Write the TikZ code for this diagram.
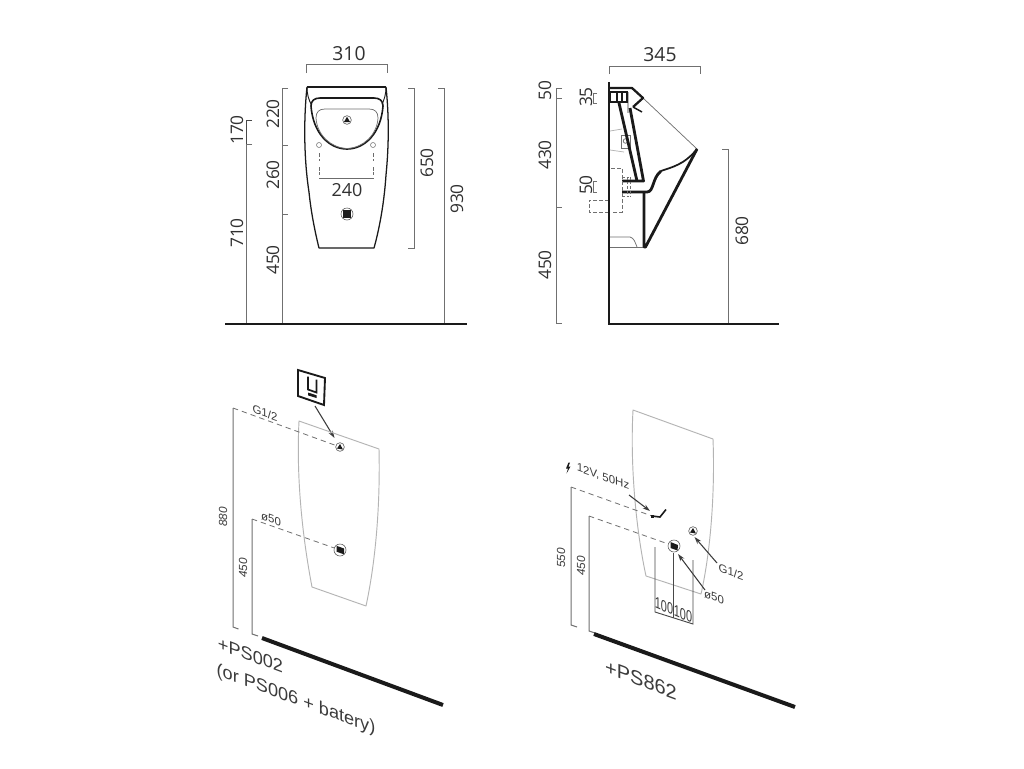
\documentclass[tikz,border=0pt]{standalone}
\usepackage{fontspec}
\setmainfont{Open Sans}
\newfontfamily\arl{Liberation Sans}
\usetikzlibrary{arrows.meta}
\definecolor{dimg}{HTML}{707070}
\definecolor{panelg}{HTML}{B4B4B4}
\definecolor{ink}{HTML}{1A1A1A}
\tikzset{
  dimline/.style={draw=dimg,line width=0.75pt},
  thinblack/.style={draw=ink!80,line width=0.55pt},
  floorline/.style={draw=ink,line width=1.7pt},
  body/.style={draw=ink,line width=0.95pt,line join=round},
  heavy/.style={draw=ink,line width=2.1pt,line join=round},
  hair/.style={draw=panelg,line width=0.55pt},
  panel/.style={draw=panelg,line width=0.7pt,line join=round},
  leader/.style={draw=dimg,line width=0.6pt,dash pattern=on 4pt off 3pt},
  ptr/.style={draw=ink!85,line width=0.8pt,-{Stealth[length=5.5pt,width=3.5pt]}},
  dimtext/.style={font=\fontsize{13}{13}\selectfont,text=ink!90,inner sep=0pt,rotate=90},
  flattext/.style={font=\fontsize{14.5}{14.5}\selectfont,text=ink!90,inner sep=0pt},
  small/.style={font=\arl\fontsize{8.6}{9}\selectfont,text=ink!85,inner sep=0pt,yslant=-0.36},
  smallv/.style={font=\arl\itshape\fontsize{8.8}{9}\selectfont,text=ink!85,inner sep=0pt,rotate=90},
  big/.style={font=\arl\fontsize{13.6}{14}\selectfont,text=ink!85,inner sep=0pt,yslant=-0.37},
  holering/.style={draw=ink!70,fill=white,line width=0.45pt},
}
\begin{document}
\begin{tikzpicture}[x=0.75pt,y=-0.75pt]
\useasboundingbox (0,0) rectangle (1024,768);
\fill[white] (0,0) rectangle (1024,768);
%% ---------- front view ----------
\draw[dimline] (306,73) -- (306,64.5) -- (387,64.5) -- (387,73);
\node[flattext] (t310) at (349,54) {310};
\draw[body] (307,87) -- (386,87);
\draw[body] (307,87) .. controls (303.5,120) and (304,160) .. (309,192) .. controls (311,212) and (315,232) .. (319,248) -- (374,248) .. controls (379,230) and (384,205) .. (386,175) .. controls (389,145) and (389,115) .. (386,87);
\draw[body,line width=0.7pt] (307,87) .. controls (307,95) and (309,100) .. (311,104);
\draw[body,line width=0.7pt] (386,87) .. controls (386,95) and (384,100) .. (382,104);
\draw[heavy,line width=1.2pt] (311,106) .. controls (311,101) and (314,98) .. (320,98) -- (374,98) .. controls (380,98) and (383,101) .. (383,106) .. controls (381,133) and (365,149) .. (347,149) .. controls (329,149) and (313,133) .. (311,106);
\draw[hair,draw=dimg] (316,118) .. controls (316,112) and (319,109) .. (325,109) -- (369,109) .. controls (375,109) and (378,112) .. (378,118) .. controls (377,135) and (363,148) .. (347,148.5) .. controls (331,148) and (317,135) .. (316,118);
\node[holering,circle,minimum size=6.5pt,inner sep=0pt] (fronttap) at (347,120) {};
\fill[ink] (347,116.8) -- (350.2,122.2) -- (343.8,122.2) -- cycle;
\node[holering,circle,minimum size=9pt,inner sep=0pt] (frontwaste) at (347,214) {};
\fill[ink] (343,210) rectangle (351,218);
\draw[panelg!60!black,line width=0.5pt] (319,148) -- (319,178) -- (373,178) -- (373,148);
\draw[white,line width=0.8pt,dash pattern=on 4pt off 3pt on 1pt off 2pt] (319,148) -- (319,178);
\draw[white,line width=0.8pt,dash pattern=on 4pt off 3pt on 1pt off 2pt] (373,148) -- (373,178);
\draw[dimg,line width=0.4pt] (319,145) circle[radius=2.5] (373,145) circle[radius=2.5];
\node[flattext,font=\fontsize{13.5}{13.5}\selectfont] (t240) at (347,190) {240};
\draw[dimline] (288,88) -- (282,88) -- (282,324);
\draw[dimline] (282,145) -- (288,145);
\draw[dimline] (282,214) -- (288,214);
\draw[thinblack] (252,120) -- (246,120) -- (246,144);
\draw[dimline] (252,144) -- (246,144) -- (246,324);
\draw[dimline] (408,88) -- (414,88) -- (414,248) -- (408,248);
\draw[dimline] (438,88) -- (444,88) -- (444,324);
\draw[floorline] (225,324) -- (467,324);
\node[dimtext] (t220) at (273,114) {220};
\node[dimtext] (t170) at (237,130) {170};
\node[dimtext] (t260) at (273,175) {260};
\node[dimtext] (t710) at (237,233) {710};
\node[dimtext] (t450a) at (273,260) {450};
\node[dimtext] (t650) at (427,163) {650};
\node[dimtext] (t930) at (457,199) {930};
%% ---------- side view ----------
\draw[dimline] (609,74) -- (609,66) -- (700,66) -- (700,74);
\node[flattext] (t345) at (660,55) {345};
\draw[dimline] (562,88) -- (556,88) -- (556,323) -- (562,323);
\draw[dimline] (556,98) -- (562,98);
\draw[dimline] (556,207) -- (562,207);
\draw[dimline,line width=0.5pt] (597,93) -- (593.5,93) -- (593.5,103) -- (597,103);
\draw[dimline,line width=0.5pt] (597,181) -- (593.5,181) -- (593.5,192) -- (597,192);
\draw[dimline] (722,149) -- (728,149) -- (728,324);
\node[dimtext] (t50a) at (545,91) {50};
\node[dimtext] (t430) at (545,155) {430};
\node[dimtext] (t450b) at (545,265) {450};
\node[dimtext] (t35) at (586,97) {35};
\node[dimtext] (t50b) at (586,185) {50};
\node[dimtext] (t680) at (742,231) {680};
% thin parts
\draw[hair,draw=dimg] (643,98) -- (697,149);
\draw[hair] (610,131) -- (622,129);
\draw[hair] (610,150) -- (624,152);
\draw[hair,draw=dimg] (621,135) rectangle (630,148);
\draw[hair,draw=dimg] (625.5,141) circle[radius=2.3];
\draw[hair,draw=dimg] (610,237) -- (630,237) .. controls (634,238) and (635,242) .. (637,247);
\draw[hair,draw=dimg] (610,247) -- (645,247);
\draw[panelg,line width=0.9pt] (628,92) -- (628,113);
% thick profile
\draw[heavy,line width=1.7pt] (610,88) -- (632,88) -- (643,98) -- (633,107);
\draw[heavy,line width=1.1pt] (633,107) -- (642,112);
\draw[ink,line width=0.9pt] (610,92) rectangle (627,102);
\draw[ink,line width=0.8pt] (617,92) -- (617,102) (622,92) -- (622,102);
\draw[heavy] (630,108) -- (643.5,181) -- (622,181);
\draw[heavy] (619,103) -- (637,181);
\draw[heavy] (622,192) -- (647,192) .. controls (654,192) and (652,178) .. (661,171);
\draw[heavy,line width=1.3pt] (661,171) .. controls (672,167) and (684,165) .. (697,149);
\draw[heavy] (644,192) -- (644,247) -- (645.5,247) -- (697,149);
\draw[thinblack,dimline,dash pattern=on 3pt off 1.5pt] (611,168) -- (622,168) -- (622,212) -- (611,212);
\draw[thinblack,dimline,dash pattern=on 3pt off 1.5pt] (609,200) -- (589,200) -- (589,212) -- (609,212);
\draw[dimg,line width=0.4pt,dash pattern=on 2pt off 1.5pt] (622,177) -- (630,177) (622,196) -- (630,196) (627,177) -- (627,196) (630,177) -- (630,196);
\draw[floorline,line width=2pt] (609,82) -- (609,324) -- (779,324);
%% ---------- lower left ----------
\draw[ink,line width=1.4pt,line join=miter] (298,370) -- (325,378) -- (324,405) -- (298,396) -- cycle;
\draw[ink,line width=1.3pt] (308,376.5) -- (308,389.5) -- (316.5,392.5) -- (316.5,379.5);
\fill[ink] (308,392.5) -- (316.5,395.3) -- (316.5,398) -- (308,395.4) -- cycle;
\coordinate (iconfoot) at (315,406);
\coordinate (llarrowtip) at (334.5,438);
\draw[ptr] (iconfoot) -- (llarrowtip);
\draw[panel] (299,421) -- (379,449) .. controls (380,490) and (378,550) .. (366,606) -- (312,587) .. controls (303,540) and (296,480) .. (299,421) -- cycle;
\node[holering,circle,minimum size=6.5pt,inner sep=0pt] (lltap) at (340,447) {};
\fill[ink] (340,444) -- (343,449.5) -- (337,448.5) -- cycle;
\node[holering,circle,minimum size=9pt,inner sep=0pt] (llwaste) at (340,550) {};
\fill[ink] (336.5,545.8) -- (344,548.5) -- (344,554.3) -- (336.5,551.7) -- cycle;
\coordinate (lla) at (233,408);
\coordinate (llb) at (252,519);
\draw[leader] (lla) -- (lltap);
\draw[leader] (llb) -- (llwaste);
\draw[dimline] (lla) -- (233,627) -- (238.5,629);
\draw[dimline] (llb) -- (252,634) -- (258,636);
\draw[draw=ink,line width=3pt] (262,638) -- (443,705);
\node[small] (tg1) at (265,413) {G1/2};
\node[small] (to1) at (271,519) {ø50};
\node[smallv] (t880) at (223,517) {880};
\node[smallv] (t450c) at (243,568) {450};
\node[big] (tps1) at (250.5,655) {+PS002};
\node[big] (tps2) at (296,700) {(or PS006 + batery)};
%% ---------- lower right ----------
\draw[panel] (633,410) -- (713,439) .. controls (715,490) and (711,550) .. (701,594) -- (646,576) .. controls (636,530) and (630,465) .. (633,410) -- cycle;
\node[small] (t12v) at (603,477) {12V, 50Hz};
\fill[ink] (568.5,462.5) -- (566,468.5) -- (568,468.5) -- (566.5,473.5) -- (570.5,466.5) -- (568.5,466.5) -- (570,462.5) -- cycle;
\coordinate (valve) at (652,516);
\coordinate (rra) at (571,487);
\coordinate (rrb) at (589,516);
\draw[leader] (rra) -- (valve);
\draw[ink,line width=1.2pt] (valve) -- (660,517) -- (666,509.5);
\fill[ink] (650.5,514.5) rectangle (654,518);
\coordinate (rrarrow) at (629,495);
\coordinate (rrarrowtip) at (650,511);
\draw[ptr] (rrarrow) -- (rrarrowtip);
\node[holering,circle,minimum size=9pt,inner sep=0pt] (rrwaste) at (674,546) {};
\fill[ink] (670.5,542) -- (678,545) -- (677.5,550.5) -- (670.5,548) -- cycle;
\node[holering,circle,minimum size=6.5pt,inner sep=0pt] (rrtap) at (693,531) {};
\fill[ink] (693,528) -- (696,533.5) -- (690,532.5) -- cycle;
\draw[leader] (rrb) -- (rrwaste);
\draw[dimline] (rra) -- (571,625) -- (577,627);
\draw[dimline] (rrb) -- (589,631) -- (595,633);
\draw[draw=ink,line width=3pt] (594,634) -- (795,707);
\coordinate (g1foot) at (717,563);
\coordinate (o50foot) at (705,590);
\draw[ptr] (g1foot) -- (694.5,537);
\draw[ptr] (o50foot) -- (678,554);
\node[small] (tg2) at (731,572) {G1/2};
\node[small] (to2) at (714,597) {ø50};
\draw[ink!80,line width=0.7pt] (655,547) -- (655,612) -- (693,624) -- (693,560);
\draw[ink!80,line width=0.7pt] (673,553) -- (673,618);
\node[inner sep=0pt,font=\arl\fontsize{12}{12}\selectfont,text=ink!85,xscale=0.68,yslant=-0.3] (t100a) at (664,606) {100};
\node[inner sep=0pt,font=\arl\fontsize{12}{12}\selectfont,text=ink!85,xscale=0.68,yslant=-0.3] (t100b) at (683,614) {100};
\node[smallv] (t550) at (561,558) {550};
\node[smallv] (t450d) at (581,566) {450};
\node[big,font=\arl\fontsize{15}{15}\selectfont] (tps3) at (641,680) {+PS862};
\end{tikzpicture}
\end{document}
